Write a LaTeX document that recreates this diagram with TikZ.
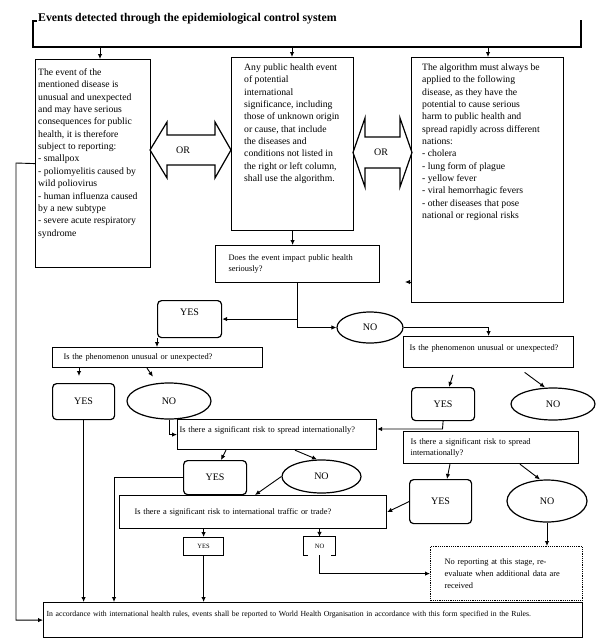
\documentclass[tikz,border=0pt]{standalone}
\usepackage{fontspec}
\setmainfont{Liberation Serif}
\usetikzlibrary{arrows.meta,shapes.geometric,positioning}

\begin{document}
\begin{tikzpicture}[x=1pt,y=-1pt,
    frame/.style={draw,line width=1.2pt,inner sep=0pt,anchor=north west},
    pill/.style={frame,rounded corners=4pt,font=\fontsize{10}{12}\selectfont},
    oval/.style={draw,ellipse,line width=1.2pt,inner sep=0pt,font=\fontsize{10}{12}\selectfont},
    ask/.style={frame,align=left,font=\fontsize{8.4}{11}\selectfont},
    body/.style={inner sep=0pt,anchor=north west,align=left,font=\fontsize{9.7}{12.35}\selectfont},
    link/.style={line width=0.9pt,-{Latex[length=5pt,width=4.5pt]}},
    wire/.style={line width=1.2pt},
    orarrow/.style={line width=1.2pt,line join=miter}]
  \useasboundingbox (0,0) rectangle (598,641);

  % header
  \node[anchor=west,inner sep=0pt,font=\bfseries\fontsize{11.8}{14}\selectfont] (head) at (38,19)
    {Events detected through the epidemiological control system};
  \draw[wire] (37,21) -- (33,21) -- (33,47) -- (581,47) -- (581,20);
  \coordinate (tl) at (100,47);
  \coordinate (tm) at (292,47);
  \coordinate (tr) at (488,47);

  % columns
  \node[frame,minimum width=115pt,minimum height=208pt] (left) at (35,59) {};
  \node[body] (lefttext) at (38,68.5) {The event of the\\mentioned disease is\\unusual and unexpected\\and may have serious\\consequences for public\\health, it is therefore\\subject to reporting:\\- smallpox\\- poliomyelitis caused by\\wild poliovirus\\- human influenza caused\\by a new subtype\\- severe acute respiratory\\syndrome};
  \node[frame,minimum width=122pt,minimum height=173pt] (mid) at (231,57) {};
  \node[body] (midtext) at (244,63.5) {Any public health event\\of potential\\international\\significance, including\\those of unknown origin\\or cause, that include\\the diseases and\\conditions not listed in\\the right or left column,\\shall use the algorithm.};
  \node[frame,minimum width=152pt,minimum height=245pt] (right) at (411,57) {};
  \node[body] (righttext) at (422,63.5) {The algorithm must always be\\applied to the following\\disease, as they have the\\potential to cause serious\\harm to public health and\\spread rapidly across different\\nations:\\- cholera\\- lung form of plague\\- yellow fever\\- viral hemorrhagic fevers\\- other diseases that pose\\national or regional risks};

  \foreach \t/\b in {tl/left,tm/mid,tr/right}
    \draw[link] (\t) -- (\t |- \b.north);

  % or arrows
  \draw[orarrow] (150,150) -- (167,122) -- (167,135) -- (215,135) -- (215,122) -- (231,150)
    -- (215,178) -- (215,165) -- (167,165) -- (167,178) -- cycle;
  \node[font=\fontsize{10}{12}\selectfont] (or1) at (183,150) {OR};
  \draw[orarrow] (353,152.5) -- (365,118) -- (365,137) -- (400,137) -- (400,118) -- (412,152.5)
    -- (400,187) -- (400,168) -- (365,168) -- (365,187) -- cycle;
  \node[font=\fontsize{10}{12}\selectfont] (or2) at (381,152) {OR};

  % questions
  \node[ask,text width=138pt,inner xsep=13pt,minimum height=37pt] (q1) at (215,245)
    {Does the event impact public health\\seriously?};
  \node[pill,minimum width=64pt,text height=15.3pt,text depth=21.7pt] (yes1) at (157,300) {YES};
  \node[oval,minimum width=66pt,minimum height=31pt] (no1) at (370,327.5) {NO};
  \node[ask,text width=188pt,inner xsep=11pt,minimum height=20pt] (q2l) at (52,347)
    {Is the phenomenon unusual or unexpected?};
  \node[ask,text width=158pt,inner xsep=6pt,text height=13.5pt,text depth=17.5pt] (q2r) at (403,336)
    {Is the phenomenon unusual or unexpected?};
  \node[pill,minimum width=62pt,minimum height=36pt] (yes2) at (52,383) {YES};
  \node[oval,minimum width=84pt,minimum height=36pt] (no2) at (169,401) {NO};
  \node[pill,minimum width=63pt,minimum height=33pt] (yes3) at (411,387) {YES};
  \node[oval,minimum width=84pt,minimum height=32pt] (no3) at (553,404) {NO};
  \node[ask,text width=195pt,inner xsep=2pt,text height=12.5pt,text depth=17.5pt] (q3l) at (177,419)
    {Is there a significant risk to spread internationally?};
  \node[ask,text width=161pt,inner xsep=7pt,minimum height=32pt] (q3r) at (403,431)
    {Is there a significant risk to spread\\internationally?};
  \node[pill,minimum width=63pt,minimum height=34pt] (yes5) at (183,460) {YES};
  \node[oval,minimum width=79pt,minimum height=33pt] (no5) at (321.5,476.5) {NO};
  \node[pill,minimum width=62pt,minimum height=44pt] (yes4) at (409,479) {YES};
  \node[oval,minimum width=80pt,minimum height=42pt] (no4) at (547,501) {NO};
  \node[ask,text width=237pt,inner xsep=15pt,minimum height=33pt] (q4) at (119,495)
    {Is there a significant risk to international traffic or trade?};
  \node[frame,minimum width=40pt,minimum height=18pt,font=\fontsize{6.5}{8}\selectfont] (yes6) at (183,537) {YES};
  \node[inner sep=0pt,minimum width=31pt,minimum height=18pt,font=\fontsize{6.5}{8}\selectfont] (no6) at (319.5,546) {NO};
  \draw[wire] ([xshift=4pt]no6.south west) -- (no6.south west) -- (no6.north west)
    -- (no6.north east) -- (no6.south east) -- ([xshift=-4pt]no6.south east);
  \node[ask,densely dotted,text width=124pt,inner xsep=14pt,minimum height=54pt,font=\fontsize{8.4}{12}\selectfont] (wait) at (430,546)
    {No reporting at this stage, re-\\evaluate when additional data are\\received};
  \node[ask,text width=533pt,inner xsep=3pt,text height=13.5pt,text depth=21.5pt,font=\fontsize{7.75}{10}\selectfont] (report) at (43,602)
    {In accordance with international health rules, events shall be reported to World Health Organisation in accordance with this form specified in the Rules.};

  % connectors
  \draw[link] (mid.south) -- (mid.south |- q1.north);
  \draw[link] (q1.south) |- (no1.west);
  \draw[link] (q1.south |- yes1.east) -- (yes1.east);
  \draw[link] (no1.east) -| (q2r.north);
  \draw[link] (yes1.south west) -- (yes1.south west |- q2l.north);
  \draw[link,shorten >=7pt] (q2l.south -| 79,0) -- (yes2.north -| 79,0);
  \draw[link,shorten >=7pt] (q2l.south -| 147,0) -- (no2.north -| 157,0);
  \draw[link,shorten <=7pt] (q2r.south -| 455,0) -- (yes3.north -| 449,0);
  \draw[link,shorten <=7pt] (q2r.south -| 519,0) -- (no3.north -| 545,0);
  \draw[link] (no2.south) |- (q3l.west);
  \coordinate (bend) at (442.5,429);
  \draw[link] (yes3.south) -- (bend) -- (bend -| q3l.east);
  \draw[link] (q3l.south -| 226,0) -- (yes5.north -| 221,0);
  \draw[link] (q3l.south -| 295,0) -- (no5.north -| 317,0);
  \draw[link] (q3r.south -| 450,0) -- (yes4.north -| 447,0);
  \draw[link] (q3r.south -| 520,0) -- (no4.north -| 540,0);
  \draw[link] (no5.west) -- (q4.north -| 255,0);
  \draw[link] (yes4.west) -- (q4.east);
  \draw[link] (q4.south -| yes6.north) -- (yes6.north);
  \draw[link] (q4.south -| no6.north) -- (no6.north);
  \draw[link] (no6.south) |- (wait.west);
  \draw[link] (no4.south) -- (no4.south |- wait.north);
  \draw[link] (yes2.south) -- (yes2.south |- report.north);
  \draw[link] (yes6.south) -- (yes6.south |- report.north);
  \draw[link] (yes5.west) -| (report.north -| 114,0);
  \coordinate (edge) at (16,163);
  \draw[link] (left.west) -- (edge) |- (report.west);
  \coordinate (stub) at (405,282);
  \draw[link] (stub -| right.west) -- (stub);
\end{tikzpicture}
\end{document}
